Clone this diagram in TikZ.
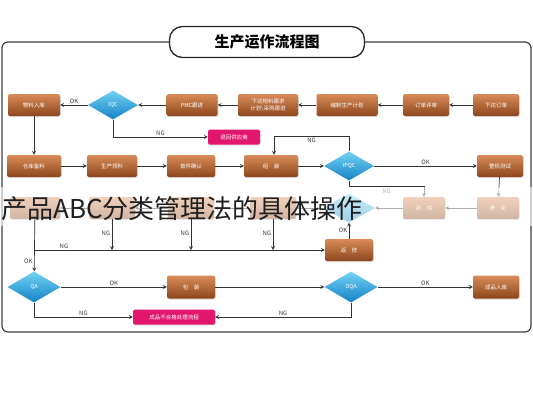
\documentclass[tikz,border=0pt]{standalone}
\usepackage{fontspec}
\setmainfont{Noto Sans CJK SC}
\usetikzlibrary{shapes.geometric, shadows, arrows, positioning}

\definecolor{boxtop}{HTML}{DA8C58}
\definecolor{boxbot}{HTML}{8C461C}
\definecolor{chktop}{HTML}{72D2F3}
\definecolor{chkbot}{HTML}{1482C6}
\definecolor{badred}{HTML}{E3166E}
\definecolor{linegray}{HTML}{333333}

\tikzset{
  box/.style={rectangle, rounded corners=2pt, minimum width=46pt, minimum height=22pt,
    inner sep=1pt, top color=boxtop, bottom color=boxbot, text=white, align=center,
    font=\fontsize{5.5}{6.5}\selectfont,
    drop shadow={opacity=0.25, shadow xshift=0.8pt, shadow yshift=-1pt}},
  chk/.style={diamond, minimum width=50pt, minimum height=29pt, inner sep=0pt,
    top color=chktop, bottom color=chkbot, text=white,
    font=\fontsize{5.5}{6.5}\selectfont},
  bad/.style={rectangle, rounded corners=1.5pt, minimum height=15pt, inner sep=2pt,
    fill=badred, text=white, font=\fontsize{5.5}{6.5}\selectfont,
    drop shadow={opacity=0.2, shadow xshift=0.8pt, shadow yshift=-1pt}},
  lab/.style={font=\fontsize{6}{7}\selectfont, text=black!75, inner sep=1.5pt},
  flow/.style={->, >=stealth, line width=0.7pt, draw=linegray}
}

\begin{document}
\begin{tikzpicture}[x=1pt, y=-1pt]
	\useasboundingbox (0,0) rectangle (533,400);
	\fill[white] (0,0) rectangle (533,400);
	
	% frame and title
	\draw[rounded corners=6pt, line width=1.2pt, black!75] (2,42) rectangle (531,332);
	\node[draw=black!85, line width=1.3pt, fill=white, rounded corners=13pt,
	  minimum width=195pt, minimum height=31pt, font=\fontsize{15}{15}\selectfont\bfseries]
	  (title) at (267,42) {生产运作流程图};
	
	% row 1
	\node[box] (order) at (496,105) {下达订单};
	\node[box] (review) at (426,105) {订单评审};
	\node[box, minimum width=61pt] (plan) at (347,105) {编制生产计划};
	\node[box, minimum width=60pt] (buy) at (268,105) {下达物料需求\\计划\textbackslash 采购跟进};
	\node[box, minimum width=51pt] (pmc) at (192,105) {PMC跟进};
	\node[chk] (iqc) at (113,105) {IQC};
	\node[box, minimum width=52pt] (stock) at (34,105) {物料入库};
	\node[bad, minimum width=52pt] (ret) at (234,137) {退回供应商};
	
	\draw[flow] (order) -- (review);
	\draw[flow] (review) -- (plan);
	\draw[flow] (plan) -- (buy);
	\draw[flow] (buy) -- (pmc);
	\draw[flow] (pmc) -- (iqc);
	\draw[flow] (iqc) -- node[lab, above] {OK} (stock);
	\draw[flow] (iqc.south) |- node[lab, above, pos=0.75] {NG} (ret.west);
	
	% row 2
	\node[box, minimum width=54pt] (prep) at (34,166) {仓库备料};
	\node[box, minimum width=50pt] (pick) at (112,166) {生产领料};
	\node[box, minimum width=48pt] (first) at (191,166) {首件确认};
	\node[box, minimum width=54pt] (asm) at (271,166) {组\quad 装};
	\node[chk] (ipqc) at (349,166) {IPQC};
	\node[box] (test) at (500,166) {整机测试};
	
	\draw[flow] (stock) -- (prep);
	\draw[flow] (prep) -- (pick);
	\draw[flow] (pick) -- (first);
	\draw[flow] (first) -- (asm);
	\draw[flow] (asm) -- (ipqc);
	\draw[flow] (ipqc) -- node[lab, above] {OK} (test);
	\draw[flow] (ipqc.north) -- ++(0,-15) -| node[lab, below, pos=0.25] {NG} ([xshift=3pt]asm.north);
	
	% row 3 (under the caption)
	\node[box, minimum width=42pt] (aging) at (498,208) {老\quad 化};
	\node[box, minimum width=42pt] (fix) at (424,208) {补\quad 件};
	\node[chk, minimum width=52pt] (fqc) at (349,208) {};
	\node[box] (r3c) at (273,208) {};
	\node[box] (r3b) at (191,208) {};
	\node[box] (r3a) at (112,208) {};
	\node[box, minimum width=50pt] (final) at (35,208) {};
	\node[box, minimum width=48pt] (rework) at (349,250) {返\quad 修};
	
	\draw[flow] (test) -- (aging);
	\draw[flow] (ipqc.south) -- ++(0,6) -| node[lab, below, pos=0.25] {NG} (fix.north);
	\draw[flow] (aging) -- (fix);
	\draw[flow] (fix) -- (fqc);
	\draw[flow] (fqc) -- (r3c);
	\draw[flow] (r3c) -- (r3b);
	\draw[flow] (r3b) -- (r3a);
	\draw[flow] (r3a) -- (final);
	
	% band and overlay text
	\fill[white, opacity=0.6] (0,187) rectangle (533,226);
	\node[anchor=west, inner sep=0pt, text=black!88, font=\fontsize{26}{26}\selectfont]
	  (caption) at (1,209) {产品ABC分类管理法的具体操作};
	
	\draw[flow] (r3a.south) -- node[lab, left, pos=0.45] {NG} (r3a.south |- rework.west);
	\draw[flow] (r3b.south) -- node[lab, left, pos=0.45] {NG} (r3b.south |- rework.west);
	\draw[flow] (r3c.south) -- node[lab, left, pos=0.45] {NG} (r3c.south |- rework.west);
	\draw[flow] (final.south |- rework.west) -- node[lab, above, pos=0.1] {NG} (rework.west);
	\draw[flow] (rework) -- node[lab, left] {OK} (fqc);
	
	% row 4
	\node[chk, minimum width=53pt, minimum height=31pt] (qa) at (34,287) {QA};
	\node[box, minimum width=48pt, minimum height=23pt] (pack) at (191,287) {包\quad 装};
	\node[chk, minimum width=53pt, minimum height=31pt] (oqa) at (351,287) {OQA};
	\node[box, minimum height=23pt] (store) at (496,287) {成品入库};
	\node[bad, minimum width=82pt] (ret2) at (174,317) {成品不合格处理流程};
	
	\draw[flow] (final) -- node[lab, left, pos=0.8] {OK} (qa);
	\draw[flow] (qa) -- node[lab, above] {OK} (pack);
	\draw[flow] (pack) -- (oqa);
	\draw[flow] (oqa) -- node[lab, above] {OK} (store);
	\draw[flow] (qa.south) |- node[lab, above, pos=0.75] {NG} (ret2.west);
	\draw[flow] (oqa.south) |- node[lab, above, pos=0.75] {NG} (ret2.east);
	
\end{tikzpicture}
\end{document}
